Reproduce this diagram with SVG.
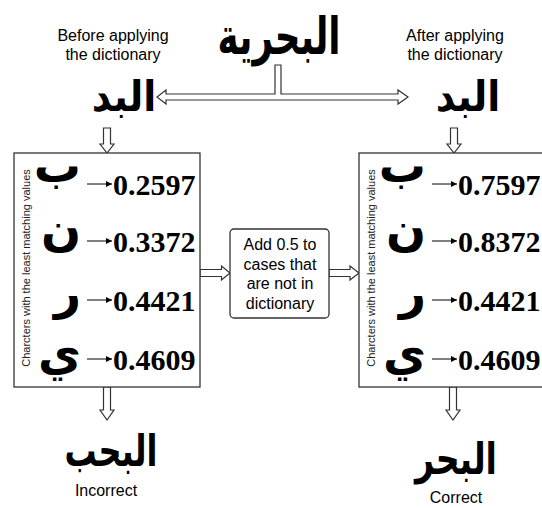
<svg xmlns="http://www.w3.org/2000/svg" width="542" height="508" viewBox="0 0 542 508">
<style>
.lbl{font-family:"Liberation Sans",Arial,sans-serif;font-size:16px;fill:#000;text-anchor:middle}
.ar{font-family:"DejaVu Sans",sans-serif;font-weight:bold;fill:#000;text-anchor:middle}
.arc{font-family:"DejaVu Sans",sans-serif;font-weight:bold;fill:#000;text-anchor:end;font-size:47px}
.num{font-family:"Liberation Serif","Times New Roman",serif;font-weight:bold;font-size:30px;fill:#000}
.vt{font-family:"Liberation Sans",Arial,sans-serif;font-size:11px;fill:#222;text-anchor:middle}
.box{fill:#fff;stroke:#333;stroke-width:1.3}
.blk{fill:#fff;stroke:#333;stroke-width:1.2;stroke-linejoin:miter}
.sa{stroke:#000;stroke-width:1;fill:none}
</style>
<defs>
<marker id="ah" viewBox="0 0 6 6" refX="6" refY="3" markerWidth="6" markerHeight="6" markerUnits="userSpaceOnUse" orient="auto"><path d="M0,0 L6,3 L0,6 z" fill="#000"/></marker>
</defs>

<g id="connectors">
<path class="blk" d="M275,65 L275,94 L166,94 L166,90 L157,97 L166,104 L166,100 L398,100 L398,104 L408,97 L398,90 L398,94 L281,94 L281,65 Z"/>
<path class="blk" d="M103.5,128 L110.5,128 L110.5,144 L114,144 L107,153 L100,144 L103.5,144 Z"/>
<path class="blk" d="M450.5,128 L457.5,128 L457.5,144 L461,144 L454,153 L447,144 L450.5,144 Z"/>
<path class="blk" d="M200,269.5 L221.5,269.5 L221.5,266 L230,273 L221.5,280 L221.5,276.5 L200,276.5 Z"/>
<path class="blk" d="M329,269.5 L350,269.5 L350,266 L359,273 L350,280 L350,276.5 L329,276.5 Z"/>
<path class="blk" d="M103.5,387 L110.5,387 L110.5,410 L114,410 L107,420 L100,410 L103.5,410 Z"/>
<path class="blk" d="M449.5,387 L456.5,387 L456.5,410 L460,410 L453,420 L446,410 L449.5,410 Z"/>
</g>

<g id="word-top"><text class="ar" transform="translate(279,54) scale(0.85,1.22)" font-size="42">البحرية</text></g>
<g id="label-before"><text class="lbl" x="113" y="41">Before applying</text><text class="lbl" x="113" y="60">the dictionary</text></g>
<g id="label-after"><text class="lbl" x="455" y="41">After applying</text><text class="lbl" x="455" y="60">the dictionary</text></g>
<g id="word-left"><text class="ar" transform="translate(124,111) scale(1,1.1)" font-size="38">البد</text></g>
<g id="word-right"><text class="ar" transform="translate(468,111) scale(1,1.1)" font-size="38">البد</text></g>

<g id="box-before">
<rect class="box" x="14" y="153" width="186" height="234"/>
<text class="vt" transform="translate(30,268) rotate(-90)">Charcters with the least matching values</text>
<text class="arc" x="81" y="182">ب</text>
<text class="arc" x="81" y="245">ن</text>
<text class="arc" x="81" y="309">ر</text>
<text class="arc" x="81" y="370">ي</text>
<line class="sa" x1="87" y1="184" x2="112" y2="184" marker-end="url(#ah)"/>
<line class="sa" x1="87" y1="241" x2="112" y2="241" marker-end="url(#ah)"/>
<line class="sa" x1="87" y1="300" x2="112" y2="300" marker-end="url(#ah)"/>
<line class="sa" x1="87" y1="359" x2="112" y2="359" marker-end="url(#ah)"/>
<text class="num" x="113" y="195">0.2597</text>
<text class="num" x="113" y="252">0.3372</text>
<text class="num" x="113" y="311">0.4421</text>
<text class="num" x="113" y="370">0.4609</text>
</g>

<g id="box-add">
<rect class="box" x="230" y="229" width="99" height="89" rx="4"/>
<text class="lbl" x="280" y="250">Add 0.5 to</text>
<text class="lbl" x="280" y="269.5">cases that</text>
<text class="lbl" x="280" y="289">are not in</text>
<text class="lbl" x="280" y="308.5">dictionary</text>
</g>

<g id="box-after">
<rect class="box" x="359" y="153" width="190" height="234"/>
<text class="vt" transform="translate(375,268) rotate(-90)">Charcters with the least matching values</text>
<text class="arc" x="426" y="182">ب</text>
<text class="arc" x="426" y="245">ن</text>
<text class="arc" x="426" y="309">ر</text>
<text class="arc" x="426" y="370">ي</text>
<line class="sa" x1="432" y1="184" x2="457" y2="184" marker-end="url(#ah)"/>
<line class="sa" x1="432" y1="241" x2="457" y2="241" marker-end="url(#ah)"/>
<line class="sa" x1="432" y1="300" x2="457" y2="300" marker-end="url(#ah)"/>
<line class="sa" x1="432" y1="359" x2="457" y2="359" marker-end="url(#ah)"/>
<text class="num" x="458" y="195">0.7597</text>
<text class="num" x="458" y="252">0.8372</text>
<text class="num" x="458" y="311">0.4421</text>
<text class="num" x="458" y="370">0.4609</text>
</g>

<g id="result-incorrect"><text class="ar" transform="translate(111,466) scale(0.8,1.1)" font-size="40">البحب</text><text class="lbl" x="106" y="496">Incorrect</text></g>
<g id="result-correct"><text class="ar" transform="translate(456,474) scale(0.83,1.1)" font-size="40">البحر</text><text class="lbl" x="456" y="503">Correct</text></g>
</svg>
